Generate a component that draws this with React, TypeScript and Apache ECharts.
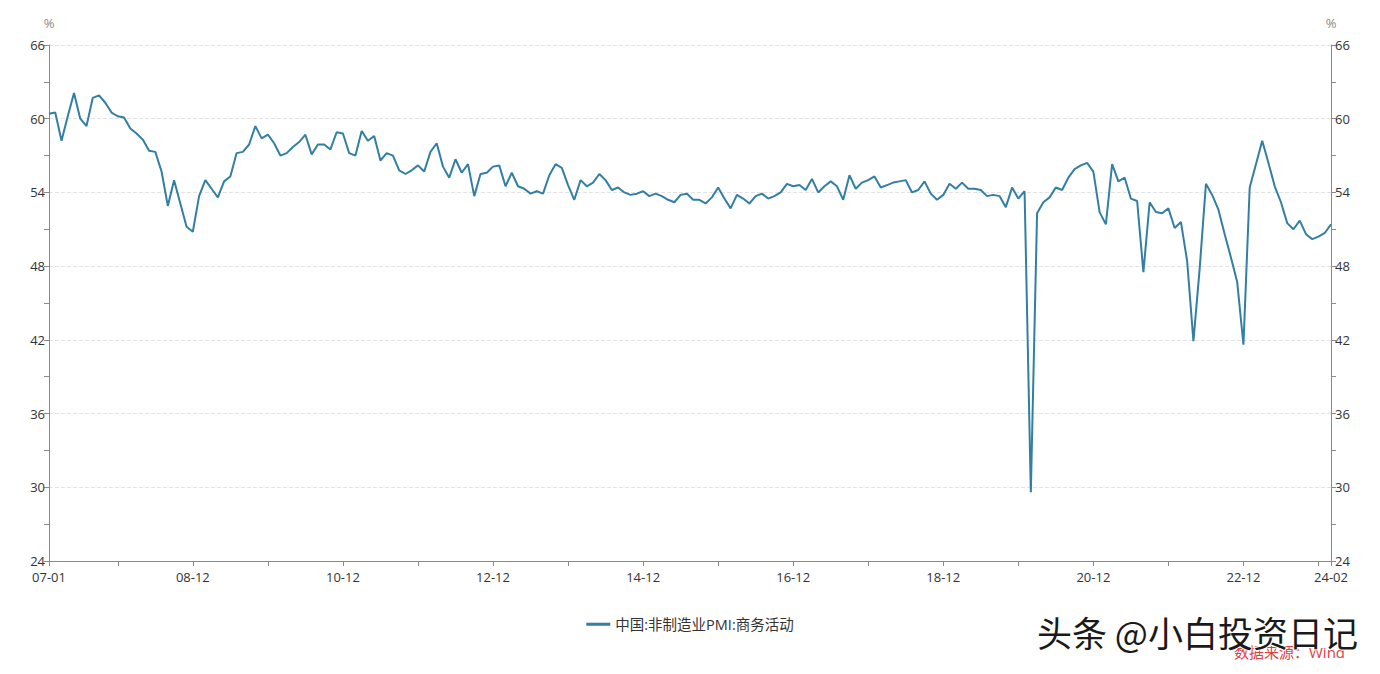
import React, { useEffect, useRef } from "react";
import * as echarts from "echarts";

const years: number[] = [];
for (let y = 2007; y <= 2024; y++) years.push(y);

const months: string[] = [];
years.forEach((y) => {
  for (let m = 1; m <= 12; m++) {
    if (y === 2024 && m > 2) break;
    months.push(String(y % 100).padStart(2, "0") + "-" + String(m).padStart(2, "0"));
  }
});

const v2007 = [60.4, 60.5, 58.2, 60.2, 62.1, 60.0, 59.4, 61.7, 61.9, 61.3, 60.5, 60.2];
const v2008 = [60.1, 59.2, 58.8, 58.3, 57.4, 57.3, 55.7, 52.9, 55.0, 53.1, 51.2, 50.8];
const v2009 = [53.7, 55.0, 54.3, 53.6, 54.9, 55.3, 57.2, 57.3, 57.9, 59.4, 58.4, 58.7];
const v2010 = [58.0, 57.0, 57.2, 57.7, 58.1, 58.7, 57.1, 57.9, 57.9, 57.5, 58.9, 58.8];
const v2011 = [57.2, 57.0, 59.0, 58.2, 58.6, 56.6, 57.2, 57.0, 55.8, 55.5, 55.8, 56.2];
const v2012 = [55.7, 57.3, 58.0, 56.1, 55.2, 56.7, 55.6, 56.3, 53.7, 55.5, 55.6, 56.1];
const v2013 = [56.2, 54.5, 55.6, 54.5, 54.3, 53.9, 54.1, 53.9, 55.4, 56.3, 56.0, 54.6];
const v2014 = [53.4, 55.0, 54.5, 54.8, 55.5, 55.0, 54.2, 54.4, 54.0, 53.8, 53.9, 54.1];
const v2015 = [53.7, 53.9, 53.7, 53.4, 53.2, 53.8, 53.9, 53.4, 53.4, 53.1, 53.6, 54.4];
const v2016 = [53.5, 52.7, 53.8, 53.5, 53.1, 53.7, 53.9, 53.5, 53.7, 54.0, 54.7, 54.5];
const v2017 = [54.6, 54.2, 55.1, 54.0, 54.5, 54.9, 54.5, 53.4, 55.4, 54.3, 54.8, 55.0];
const v2018 = [55.3, 54.4, 54.6, 54.8, 54.9, 55.0, 54.0, 54.2, 54.9, 53.9, 53.4, 53.8];
const v2019 = [54.7, 54.3, 54.8, 54.3, 54.3, 54.2, 53.7, 53.8, 53.7, 52.8, 54.4, 53.5];
const v2020 = [54.1, 29.6, 52.3, 53.2, 53.6, 54.4, 54.2, 55.2, 55.9, 56.2, 56.4, 55.7];
const v2021 = [52.4, 51.4, 56.3, 54.9, 55.2, 53.5, 53.3, 47.5, 53.2, 52.4, 52.3, 52.7];
const v2022 = [51.1, 51.6, 48.4, 41.9, 47.8, 54.7, 53.8, 52.6, 50.6, 48.7, 46.7, 41.6];
const v2023 = [54.4, 56.3, 58.2, 56.4, 54.5, 53.2, 51.5, 51.0, 51.7, 50.6, 50.2, 50.4];
const v2024 = [50.7, 51.4];

const values: number[] = [
  ...v2007, ...v2008, ...v2009, ...v2010, ...v2011, ...v2012,
  ...v2013, ...v2014, ...v2015, ...v2016, ...v2017, ...v2018,
  ...v2019, ...v2020, ...v2021, ...v2022, ...v2023, ...v2024,
];

const seriesName = "中国:非制造业PMI:商务活动";
const yTicks = { min: 24, max: 66, interval: 6 };
const watermark = "头条 @小白投资日记";
const sourceText = "数据来源：Wind";

const FONT = "'Open Sans', 'Noto Sans CJK SC', sans-serif";

export default function App() {
  const ref = useRef<HTMLDivElement>(null);
  useEffect(() => {
    document.body.style.margin = "0";
    if (!ref.current) return;
    const chart = echarts.init(ref.current, undefined, { renderer: "svg" });
    const last = months.length - 1;
    const axisColor = "#8a8a8a";
    const yAxisCommon = {
      type: "value",
      min: yTicks.min,
      max: yTicks.max,
      interval: yTicks.interval,
      name: "%",
      nameLocation: "end",
      nameGap: 16,
      nameTextStyle: { color: "#888", fontSize: 13, fontFamily: FONT },
      axisLine: { show: true, lineStyle: { color: axisColor } },
      axisTick: { show: true, length: 5, lineStyle: { color: axisColor } },
      minorTick: { show: true, splitNumber: 2, length: 5, lineStyle: { color: axisColor } },
      axisLabel: { color: "#333", fontSize: 13, fontFamily: FONT, margin: 4 },
    };
    chart.setOption({
      animation: false,
      grid: { left: 49, right: 49, top: 45, bottom: 113, containLabel: false },
      legend: {
        top: 612,
        left: "center",
        itemWidth: 24,
        itemHeight: 3,
        itemGap: 10,
        textStyle: { color: "#333", fontSize: 14.5, fontFamily: FONT },
        data: [{ name: seriesName, icon: "rect" }],
      },
      xAxis: {
        type: "category",
        boundaryGap: false,
        data: months,
        axisLine: { lineStyle: { color: axisColor } },
        axisTick: {
          length: 5,
          lineStyle: { color: axisColor },
          interval: (i: number) => i === 0 || i === last || (i + 1) % 12 === 0,
        },
        axisLabel: {
          color: "#333",
          fontSize: 13,
          fontFamily: FONT,
          margin: 9,
          interval: (i: number) => i === 0 || i === last || (i + 1) % 24 === 0,
        },
      },
      yAxis: [
        {
          ...yAxisCommon,
          position: "left",
          splitLine: { show: true, lineStyle: { color: "#e3e3e3", type: "dashed" } },
        },
        {
          ...yAxisCommon,
          position: "right",
          splitLine: { show: false },
        },
      ],
      series: [
        {
          name: seriesName,
          type: "line",
          data: values,
          symbol: "none",
          yAxisIndex: 0,
          lineStyle: { color: "#327fa3", width: 2 },
          itemStyle: { color: "#327fa3" },
        },
      ],
      graphic: [
        {
          type: "text",
          left: 1234,
          top: 644,
          style: {
            text: sourceText,
            fill: "#e0413f",
            fontSize: 15,
            fontFamily: FONT,
          },
        },
        {
          type: "text",
          left: 1036,
          top: 613,
          style: {
            text: watermark,
            fill: "#1a1a1a",
            stroke: "#ffffff",
            lineWidth: 2,
            fontSize: 35,
            fontFamily: "'Noto Sans CJK SC', sans-serif",
          },
        },
      ],
    });
    return () => chart.dispose();
  }, []);
  return <div ref={ref} style={{ width: 1380, height: 674 }} />;
}
